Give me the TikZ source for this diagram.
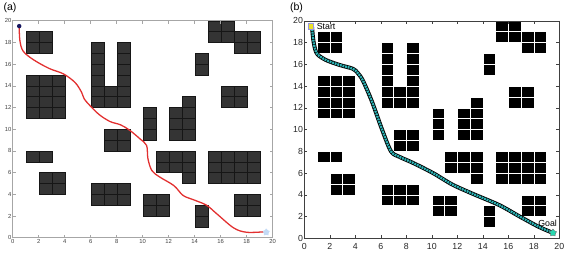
\documentclass[tikz,border=0pt]{standalone}
\usepackage{fontspec}
\setmainfont{Liberation Sans}
\usetikzlibrary{positioning, shapes.geometric}

\definecolor{obsfill}{RGB}{52,52,52}
\definecolor{obsline}{RGB}{22,22,22}
\definecolor{routered}{RGB}{226,48,48}
\definecolor{dotnavy}{RGB}{22,22,95}
\definecolor{starpale}{RGB}{195,218,245}
\definecolor{tracecyan}{RGB}{45,180,182}
\definecolor{startyellow}{RGB}{235,225,40}
\definecolor{startrim}{RGB}{150,150,230}
\definecolor{goalgreen}{RGB}{40,215,175}

% occupied cells of the 20x20 map (lower left corners)
\newcommand{\gridcells}[1]{%
  \foreach \cx/\cy in {1/17,2/17,1/18,2/18,
      1/11,2/11,3/11,1/12,2/12,3/12,1/13,2/13,3/13,1/14,2/14,3/14,
      1/7,2/7, 2/4,3/4,2/5,3/5,
      6/12,6/13,6/14,6/15,6/16,6/17,7/12,7/13,8/12,8/13,8/14,8/15,8/16,8/17,
      7/8,8/8,7/9,8/9, 6/3,7/3,8/3,6/4,7/4,8/4,
      10/9,10/10,10/11,
      12/9,13/9,12/10,13/10,12/11,13/11,13/12,
      11/6,12/6,13/6,11/7,12/7,13/7,13/5,
      10/2,11/2,10/3,11/3, 14/1,14/2, 14/15,14/16,
      15/18,16/18,15/19,16/19, 17/17,18/17,17/18,18/18,
      16/12,17/12,16/13,17/13,
      15/5,16/5,17/5,18/5,15/6,16/6,17/6,18/6,15/7,16/7,17/7,18/7,
      17/2,18/2,17/3,18/3}
    \draw[#1] (\cx,\cy) rectangle ++(1,1);}

\begin{document}
\begin{tikzpicture}[
    panellabel/.style={font=\fontsize{9}{10}\selectfont, inner sep=0pt},
    cellA/.style={fill=obsfill, draw=obsline, line width=0.3pt},
    cellB/.style={fill=black, draw=white, line width=0.5pt},
    frameA/.style={draw=black!35, line width=0.4pt},
    frameB/.style={draw=black!75, line width=0.5pt},
    tickA/.style={font=\fontsize{5}{6}\selectfont, text=black!75, inner sep=1pt},
    tickB/.style={font=\fontsize{7.5}{9}\selectfont, text=black!85, inner sep=1pt},
    tag/.style={font=\fontsize{7.5}{9}\selectfont, inner sep=1pt}]
\useasboundingbox (0,0) rectangle (17.16cm,7.71cm);
\node[panellabel] (lblA) at (0.30cm,7.48cm) {(a)};
\node[panellabel] (lblB) at (8.895cm,7.47cm) {(b)};
%---------------------------
\begin{scope}[shift={(0.381cm,0.579cm)}, x=0.39cm, y=0.3255cm]
  \gridcells{cellA}
  \draw[frameA] (0,0) rectangle (20,20);
  \foreach \t in {0,2,...,20} {
    \draw[frameA] (\t,0) -- ++(0,0.28) (\t,20) -- ++(0,-0.28)
                  (0,\t) -- ++(0.23,0) (20,\t) -- ++(-0.23,0);
    \node[tickA, below] (xa\t) at (\t,0) {\t};
    \node[tickA, left] (ya\t) at (0,\t) {\t};
  }
  \draw[routered, line width=1.1pt, line cap=round] plot[smooth, tension=0.55] coordinates {
    (0.5,19.5) (0.55,18.2) (0.8,17.2) (1.6,16.4) (2.8,15.6) (3.9,15.1) (4.8,14.3)
    (5.3,13.4) (5.5,12.8) (6,12.1) (6.7,11.3) (7.5,10.7) (8.3,10.4) (9,9.9)
    (9.8,9.1) (10.3,8.5) (10.4,7.3) (10.7,6.2) (11.3,5.6) (12.4,4.8) (13.1,3.9)
    (13.9,3.5) (14.9,3.0) (15.7,2.2) (17,0.9) (18,0.5) (19.4,0.55)};
  \node[circle, fill=dotnavy, inner sep=0pt, minimum size=3.8pt] (startA) at (0.5,19.5) {};
  \node[star, star points=5, fill=starpale, inner sep=0pt, minimum size=6.5pt] (goalA) at (19.5,0.5) {};
\end{scope}
%---------------------------
\begin{scope}[shift={(9.129cm,0.561cm)}, x=0.3825cm, y=0.3261cm]
  \gridcells{cellB}
  \draw[frameB] (0,0) rectangle (20,20);
  \foreach \t in {0,2,...,20} {
    \draw[frameB] (\t,0) -- ++(0,0.28) (\t,20) -- ++(0,-0.28)
                  (0,\t) -- ++(0.23,0) (20,\t) -- ++(-0.23,0);
    \node[tickB, below=3pt] (xb\t) at (\t,0) {\t};
    \node[tickB, left] (yb\t) at (0,\t) {\t};
  }
  \draw[black, line width=3.4pt, line cap=round, line join=round] plot[smooth, tension=0.5] coordinates {
    (0.6,19.5) (0.7,18.3) (0.85,17.4) (1.05,16.9) (1.7,16.4) (2.75,15.95) (3.8,15.6)
    (4.2,15.2) (4.6,14.5) (5.3,12.6) (6.1,10) (6.8,8) (7.45,7.5) (8.5,6.95)
    (10.1,6) (11.6,4.95) (13.2,4.1) (15.3,3.05) (16.9,2.0) (18.4,1.05) (19.5,0.5)};
  \draw[tracecyan, line width=2pt, dash pattern=on 1.6pt off 0.7pt] plot[smooth, tension=0.5] coordinates {
    (0.6,19.5) (0.7,18.3) (0.85,17.4) (1.05,16.9) (1.7,16.4) (2.75,15.95) (3.8,15.6)
    (4.2,15.2) (4.6,14.5) (5.3,12.6) (6.1,10) (6.8,8) (7.45,7.5) (8.5,6.95)
    (10.1,6) (11.6,4.95) (13.2,4.1) (15.3,3.05) (16.9,2.0) (18.4,1.05) (19.5,0.5)};
  \node[rectangle, fill=startyellow, draw=startrim, line width=0.6pt, inner sep=0pt, minimum size=4.5pt] (startB) at (0.5,19.5) {};
  \node[star, star points=5, fill=goalgreen, draw=black!60, line width=0.3pt, inner sep=0pt, minimum size=6.5pt] (goalB) at (19.5,0.5) {};
  %--------------------------
  \node[tag, right=1.5pt of startB] (startlbl) {Start};
  \node[tag, above=1pt of goalB, xshift=-4.5pt] (goallbl) {Goal};
\end{scope}
\end{tikzpicture}
\end{document}
